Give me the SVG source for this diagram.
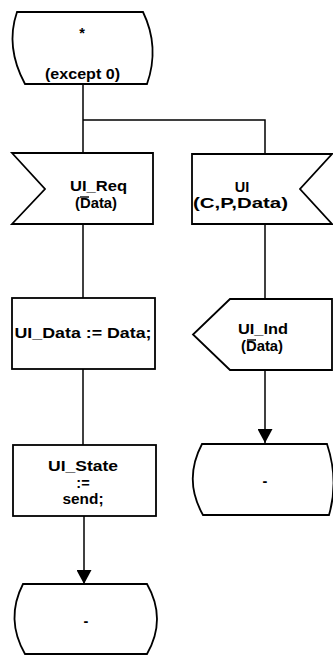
<svg xmlns="http://www.w3.org/2000/svg" width="333" height="655" viewBox="0 0 333 655">
<style>
.s{fill:#fff;stroke:#000;stroke-width:1.8;stroke-linejoin:miter}
.c{fill:none;stroke:#000;stroke-width:1.5}
.b{stroke:#000;stroke-width:1.4}
text{font-family:"Liberation Sans",Arial,sans-serif;font-weight:bold;font-size:14.5px;text-anchor:middle;fill:#000}
</style>
<defs>
<marker id="ah" viewBox="0 0 14 15" refX="14" refY="7.5" markerWidth="14" markerHeight="15" markerUnits="userSpaceOnUse" orient="auto">
<path d="M0,0 L14,7.5 L0,15 Z" fill="#000"/>
</marker>
</defs>
<rect width="333" height="655" fill="#fff"/>
<g id="connectors">
<path class="c" d="M83,84 V153"/>
<path class="c" d="M83,120 H265 V154"/>
<path class="c" d="M83,224 V298"/>
<path class="c" d="M83,369 V445"/>
<path class="c" d="M84,516 V584" marker-end="url(#ah)"/>
<path class="c" d="M265,224 V299"/>
<path class="c" d="M265,370 V443" marker-end="url(#ah)"/>
</g>
<g id="start">
<path class="s" d="M17,12 H143 Q160,47 147,84 H25 Q5,47 17,12 Z"/>
<text x="82" y="38" font-size="16">*</text>
<text x="82.5" y="79" textLength="75" lengthAdjust="spacingAndGlyphs">(except 0)</text>
</g>
<g id="ui_req">
<path class="s" d="M12,153 H153 V224 H12 L45,189 Z"/>
<text x="98.5" y="191" textLength="57" lengthAdjust="spacingAndGlyphs">UI_Req</text>
<text x="96" y="207.5" textLength="42" lengthAdjust="spacingAndGlyphs">(Data)</text>
<line class="b" x1="80" y1="197" x2="89" y2="197"/>
</g>
<g id="ui">
<path class="s" d="M192,154 H332 L300,189 L332,224 H192 Z"/>
<text x="242" y="191.5">UI</text>
<text x="240.5" y="208" textLength="95" lengthAdjust="spacingAndGlyphs">(C,P,Data)</text>
</g>
<g id="assign_data">
<rect class="s" x="12" y="298" width="143" height="71"/>
<text x="83" y="338" textLength="137" lengthAdjust="spacingAndGlyphs">UI_Data := Data;</text>
</g>
<g id="ui_ind">
<path class="s" d="M230,299 H332 V370 H230 L193,334.5 Z"/>
<text x="263" y="334" textLength="50" lengthAdjust="spacingAndGlyphs">UI_Ind</text>
<text x="262" y="350.5" textLength="42" lengthAdjust="spacingAndGlyphs">(Data)</text>
<line class="b" x1="247" y1="340" x2="256" y2="340"/>
</g>
<g id="assign_state">
<rect class="s" x="13" y="445" width="143" height="71"/>
<text x="83" y="471" textLength="70" lengthAdjust="spacingAndGlyphs">UI_State</text>
<text x="83" y="487.5">:=</text>
<text x="83" y="504" textLength="41" lengthAdjust="spacingAndGlyphs">send;</text>
</g>
<g id="state_right">
<path class="s" d="M202,444 H327 Q339,480 329,515 H203 Q183,480 202,444 Z"/>
<text x="265" y="486">-</text>
</g>
<g id="state_bottom">
<path class="s" d="M23,584 H147 Q167,619 147,654 H25 Q5,619 23,584 Z"/>
<text x="86" y="626">-</text>
</g>
</svg>
